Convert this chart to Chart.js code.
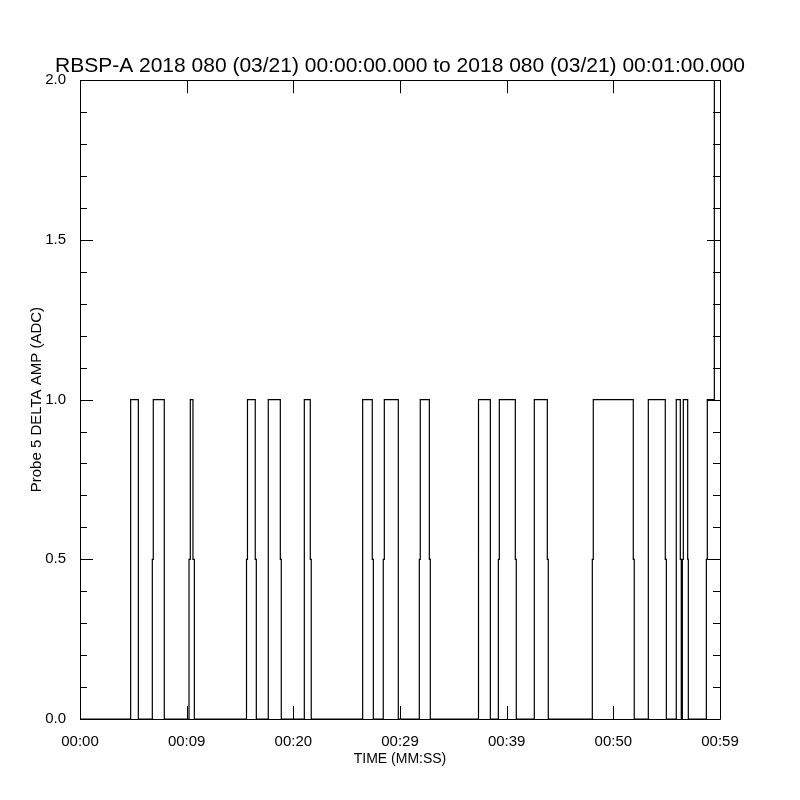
<!DOCTYPE html>
<html>
<head>
<meta charset="utf-8">
<script src="https://cdn.jsdelivr.net/npm/chart.js@4"></script>
<style>
  body { margin: 0; background: #fff; }
</style>
</head>
<body>
<canvas id="ChartProbe" width="800" height="800"></canvas>
<script>
const tituloGrafico = "RBSP-A 2018 080 (03/21) 00:00:00.000 to 2018 080 (03/21) 00:01:00.000"

const tiempos = [
  0, 4.75, 4.75, 5.47, 5.47,
  6.78, 6.78, 6.87, 6.87, 7.90, 7.90,
  10.22, 10.22, 10.34, 10.34, 10.59, 10.59, 10.72, 10.72,
  15.61, 15.61, 15.70, 15.70, 16.43, 16.43, 16.53, 16.53,
  17.65, 17.65, 18.78, 18.78, 18.87, 18.87,
  21.03, 21.03, 21.59, 21.59, 21.68, 21.68,
  26.50, 26.50, 27.40, 27.40, 27.50, 27.50,
  28.43, 28.43, 28.53, 28.53, 29.84, 29.84,
  31.81, 31.81, 31.90, 31.90, 32.75, 32.75, 32.84, 32.84,
  37.36, 37.36, 38.47, 38.47,
  39.22, 39.22, 39.31, 39.31, 40.81, 40.81, 40.90, 40.90,
  42.59, 42.59, 43.81, 43.81, 43.90, 43.90,
  48.03, 48.03, 48.12, 48.12, 51.87, 51.87, 51.96, 51.96,
  53.28, 53.28, 54.87, 54.87, 54.97, 54.97,
  55.90, 55.90, 56.28, 56.28, 56.37, 56.37,
  56.47, 56.47, 56.56, 56.56, 56.97, 56.97, 57.03, 57.03,
  58.72, 58.72, 58.81, 58.81, 59.47, 59.47, 60
]
const amplitudes = [
  0, 0, 1, 1, 0,
  0, 0.5, 0.5, 1, 1, 0,
  0, 0.5, 0.5, 1, 1, 0.5, 0.5, 0,
  0, 0.5, 0.5, 1, 1, 0.5, 0.5, 0,
  0, 1, 1, 0.5, 0.5, 0,
  0, 1, 1, 0.5, 0.5, 0,
  0, 1, 1, 0.5, 0.5, 0,
  0, 0.5, 0.5, 1, 1, 0,
  0, 0.5, 0.5, 1, 1, 0.5, 0.5, 0,
  0, 1, 1, 0,
  0, 0.5, 0.5, 1, 1, 0.5, 0.5, 0,
  0, 1, 1, 0.5, 0.5, 0,
  0, 0.5, 0.5, 1, 1, 0.5, 0.5, 0,
  0, 1, 1, 0.5, 0.5, 0,
  0, 1, 1, 0.5, 0.5, 0,
  0, 0.5, 0.5, 1, 1, 0.5, 0.5, 0,
  0, 0.5, 0.5, 1, 1, 2, 2
]

// ejes
const ticksX = [0, 10, 20, 30, 40, 50, 60]
const etiquetasX = ["00:00", "00:09", "00:20", "00:29", "00:39", "00:50", "00:59"]
const ticksY = [0, 0.5, 1.0, 1.5, 2.0]
const etiquetasY = ["0.0", "0.5", "1.0", "1.5", "2.0"]
const ticksMenoresY = [0.1, 0.2, 0.3, 0.4, 0.6, 0.7, 0.8, 0.9, 1.1, 1.2, 1.3, 1.4, 1.6, 1.7, 1.8, 1.9]

Chart.defaults.font.family = "'Liberation Sans', Arial, sans-serif"
Chart.defaults.color = "#000"

// dibuja el marco y las marcas hacia adentro, estilo IDL
const marcoIDL = {
  id: "marcoIDL",
  afterDatasetsDraw(chart) {
    const { ctx, chartArea: a, scales } = chart
    const x = scales.x
    const y = scales.y
    ctx.save()
    ctx.strokeStyle = "#000"
    ctx.lineWidth = 1
    ctx.beginPath()
    ctx.rect(Math.round(a.left) + 0.5, Math.round(a.top) + 0.5,
      Math.round(a.right - a.left), Math.round(a.bottom - a.top))
    ticksY.forEach(v => {
      const py = Math.round(y.getPixelForValue(v)) + 0.5
      ctx.moveTo(a.left, py); ctx.lineTo(a.left + 13, py)
      ctx.moveTo(a.right, py); ctx.lineTo(a.right - 13, py)
    })
    ticksMenoresY.forEach(v => {
      const py = Math.round(y.getPixelForValue(v)) + 0.5
      ctx.moveTo(a.left, py); ctx.lineTo(a.left + 7, py)
      ctx.moveTo(a.right, py); ctx.lineTo(a.right - 7, py)
    })
    ticksX.forEach(v => {
      const px = Math.round(x.getPixelForValue(v)) + 0.5
      ctx.moveTo(px, a.bottom); ctx.lineTo(px, a.bottom - 13)
      ctx.moveTo(px, a.top); ctx.lineTo(px, a.top + 13)
    })
    ctx.stroke()
    ctx.restore()
  }
}

const puntos = tiempos.map((t, i) => ({ x: t, y: amplitudes[i] }))

new Chart(document.getElementById("ChartProbe"), {
  type: "line",
  data: {
    datasets: [{
      data: puntos,
      borderColor: "#000",
      borderWidth: 1.2,
      pointRadius: 0,
      tension: 0,
      fill: false
    }]
  },
  options: {
    responsive: false,
    animation: false,
    layout: { padding: 0 },
    plugins: {
      legend: { display: false },
      tooltip: { enabled: false },
      title: {
        display: true,
        text: tituloGrafico,
        color: "#000",
        font: { size: 21, weight: "normal" },
        padding: { top: 54, bottom: 1 }
      }
    },
    scales: {
      x: {
        type: "linear",
        min: 0,
        max: 60,
        grid: { display: false },
        border: { display: false },
        afterBuildTicks: s => { s.ticks = ticksX.map(v => ({ value: v })) },
        afterFit: s => { s.height = 81 },
        ticks: {
          autoSkip: false,
          maxRotation: 0,
          padding: 6,
          font: { size: 15 },
          callback: (v, i) => etiquetasX[i]
        },
        title: {
          display: true,
          text: "TIME (MM:SS)",
          font: { size: 14 },
          padding: { top: 0, bottom: 32 }
        }
      },
      y: {
        min: 0,
        max: 2,
        grid: { display: false },
        border: { display: false },
        afterBuildTicks: s => { s.ticks = ticksY.map(v => ({ value: v })) },
        afterFit: s => { s.width = 80 },
        ticks: {
          padding: 6,
          font: { size: 15 },
          callback: (v, i) => etiquetasY[i]
        },
        title: {
          display: true,
          text: "Probe 5 DELTA AMP (ADC)",
          font: { size: 15 },
          padding: { top: 28, bottom: 0 }
        }
      },
      yDerecha: {
        position: "right",
        min: 0,
        max: 2,
        grid: { display: false },
        border: { display: false },
        ticks: { display: false },
        afterFit: s => { s.width = 80 }
      }
    }
  },
  plugins: [marcoIDL]
})
</script>
</body>
</html>
